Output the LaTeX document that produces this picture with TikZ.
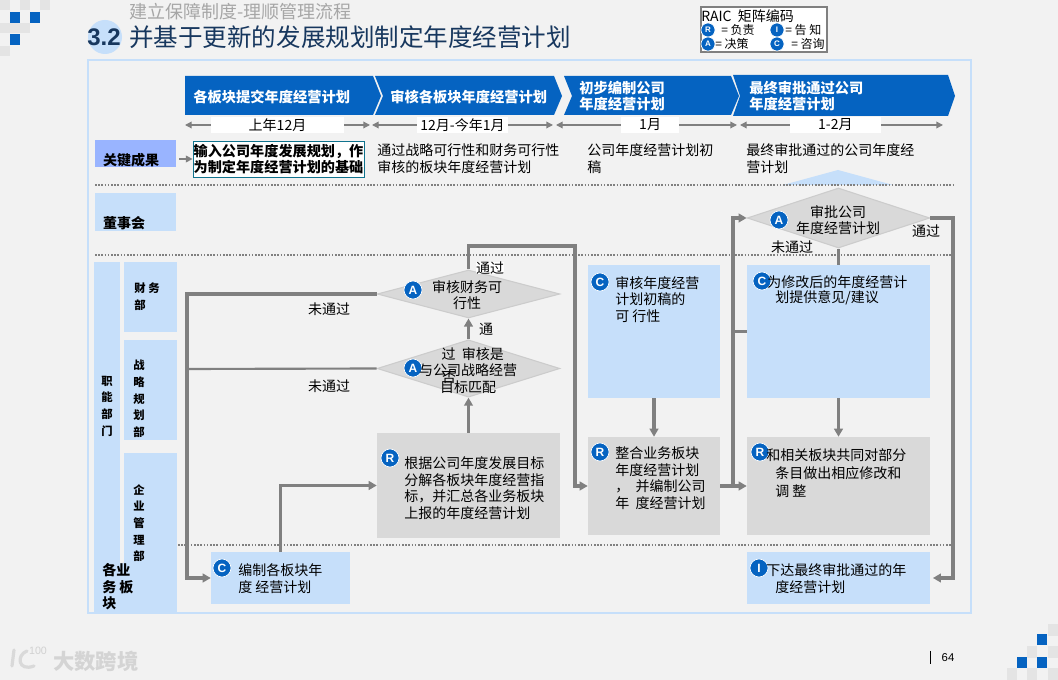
\documentclass[tikz,border=0pt]{standalone}
\usepackage{fontspec}
\setmainfont{Noto Sans CJK SC}
\newfontfamily\latinfont{Liberation Sans}
\usetikzlibrary{arrows.meta,positioning,calc,fit,shapes.geometric}
\definecolor{pagebg}{HTML}{F2F2F2}
\definecolor{paleblue}{HTML}{C6DFFA}
\definecolor{chevblue}{HTML}{0563C1}
\definecolor{navy}{HTML}{17375E}
\definecolor{linegray}{HTML}{808080}
\definecolor{boxgray}{HTML}{D9D9D9}
\definecolor{periwinkle}{HTML}{99B4FF}
\definecolor{tilegray}{HTML}{E4E4E4}
\newcommand{\bodyfont}{\fontsize{10.5}{12.4}\selectfont}

\begin{document}
\begin{tikzpicture}[
  x=0.75pt, y=-0.75pt,
  >={Triangle[length=6pt,width=6.5pt]},
  cbox/.style={rectangle,fill=paleblue,inner sep=0pt},
  gbox/.style={rectangle,fill=boxgray,inner sep=0pt},
  gate/.style={diamond,fill=boxgray,draw=black!20,line width=0.8pt,inner sep=0pt,minimum width=137pt},
  badge/.style={circle,fill=chevblue,draw=white,line width=0.5pt,inner sep=0pt,minimum size=13.5pt,text=white,font=\latinfont\fontsize{9}{9}\selectfont\bfseries},
  keybadge/.style={badge,minimum size=10.5pt,font=\latinfont\fontsize{6}{6}\selectfont\bfseries},
  txt/.style={anchor=west,align=left,inner sep=0pt,font=\bodyfont},
  mid/.style={align=center,inner sep=0pt,font=\bodyfont},
  side/.style={align=center,inner sep=0pt,font=\fontsize{8.5}{12.5}\selectfont\bfseries},
  chev/.style={txt,text=white,font=\fontsize{10.7}{12.4}\selectfont\bfseries},
  span/.style={draw=linegray,line width=1pt,{Triangle[length=5pt,width=5pt]}-{Triangle[length=5pt,width=5pt]}},
  month/.style={fill=white,inner sep=0pt,minimum height=12.5pt,font=\bodyfont},
  flow/.style={draw=linegray,line width=2.3pt,->},
  link/.style={draw=linegray,line width=2.3pt},
  sep/.style={draw=linegray,line width=1.1pt,dash pattern=on 1.2pt off 1.2pt}
]
\fill[pagebg] (0,0) rectangle (1058,680);
\useasboundingbox (0,0) rectangle (1058,680);
% corner tiles
\foreach \x/\y in {0/0,20/0,40/0,0/23,20/23,10/23,0/46}
  \fill[tilegray] (\x,\y) rectangle ++(10,10);
\foreach \x/\y in {10/12,30/12,10/34}
  \fill[chevblue] (\x,\y) rectangle ++(10,11);
\foreach \x/\y in {1048/624,1027/646,1048/646,1007/668,1027/668,1048/668}
  \fill[tilegray] (\x,\y) rectangle ++(10,12);
\foreach \x/\y in {1037/634,1017/657,1037/657}
  \fill[chevblue] (\x,\y) rectangle ++(10,11);
% title
\node[circle,fill=paleblue,minimum size=25.5pt,inner sep=0pt] (numdisc) at (105,37) {};
\node[font=\latinfont\fontsize{18}{18}\selectfont\bfseries,text=navy] (num) at (104,37) {3.2};
\node[anchor=west,inner sep=0pt,text=black!35,font=\fontsize{13.5}{13.5}\selectfont] (subtitle) at (129,12) {建立保障制度-理顺管理流程};
\node[anchor=west,inner sep=0pt,text=navy,font=\fontsize{18.4}{18.4}\selectfont] (title) at (129,37) {并基于更新的发展规划制定年度经营计划};
% legend
\node[fit={(701,7)(827,52)},rectangle,fill=white,draw=linegray,line width=0.8pt,inner sep=0pt] (keybox) {};
\node[txt,font=\fontsize{10.5}{10.5}\selectfont] (keyhead) at (701,16) {RAIC\ \ 矩阵编码};
\node[keybadge] (keyr) at (708,30) {R}; \node[keybadge] (keyi) at (777,30) {I};
\node[keybadge] (keya) at (708,44) {A}; \node[keybadge] (keyc) at (777,44) {C};
\node[txt,font=\fontsize{9}{9}\selectfont] (keyrt) at (721,30) {= 负责};
\node[txt,font=\fontsize{9}{9}\selectfont] (keyit) at (785,30) {= 告 知};
\node[txt,font=\fontsize{9}{9}\selectfont] (keyat) at (715,44) {= 决策};
\node[txt,font=\fontsize{9}{9}\selectfont] (keyct) at (791,44) {= 咨询};
% frame
\node[fit={(88,60)(971,613)},rectangle,draw=paleblue,line width=1.4pt,inner sep=0pt] (frame) {};
% phases
\fill[chevblue] (185,76) -- (373,76) -- (381,96) -- (373,115) -- (185,115) -- cycle;
\fill[chevblue] (375,76) -- (554,76) -- (562,96) -- (554,115) -- (375,115) -- (383,96) -- cycle;
\fill[chevblue] (564,76) -- (731,76) -- (739,96) -- (731,115) -- (564,115) -- (572,96) -- cycle;
\fill[chevblue] (733,75) -- (948,75) -- (955,96) -- (948,116) -- (733,116) -- (740,96) -- cycle;
\node[chev] (ph1) at (193,97) {各板块提交年度经营计划};
\node[chev] (ph2) at (390,97) {审核各板块年度经营计划};
\node[chev] (ph3) at (579,96) {初步编制公司\\年度经营计划};
\node[chev] (ph4) at (749,96) {最终审批通过公司\\年度经营计划};
% months
\coordinate (m1a) at (185,125); \coordinate (m1b) at (370,125);
\coordinate (m2a) at (372,125); \coordinate (m2b) at (553,125);
\coordinate (m3a) at (556,125); \coordinate (m3b) at (737,125);
\coordinate (m4a) at (740,125); \coordinate (m4b) at (943,125);
\draw[span] (m1a) -- node[month,minimum width=100pt] (mon1) {上年12月} (m1b);
\draw[span] (m2a) -- node[month,minimum width=68pt] (mon2) {12月-今年1月} (m2b);
\draw[span] (m3a) -- node[month,minimum width=44pt,pos=.52] (mon3) {1月} (m3b);
\draw[span] (m4a) -- node[month,minimum width=68pt,pos=.47] (mon4) {1-2月} (m4b);
% rows
\coordinate (s1a) at (95,185); \coordinate (s1b) at (953,185);
\coordinate (s2a) at (95,255); \coordinate (s2b) at (953,255);
\coordinate (s3a) at (178,545); \coordinate (s3b) at (953,545);
\fill[paleblue] (783,185) -- (838,170) -- (893,185) -- cycle;
\draw[sep] (s1a) -- (s1b); \draw[sep] (s2a) -- (s2b); \draw[sep] (s3a) -- (s3b);
\node[fit={(95,140)(176,167)},rectangle,fill=periwinkle,inner sep=0pt] (keyout) {};
\node[font=\bodyfont\bfseries,inner sep=0pt] (keyoutt) at (131,160) {关键成果};
\node[fit={(193,141)(364,177)},rectangle,fill=white,draw=navy!70!cyan,line width=0.6pt,inner sep=0pt] (inputbox) {};
\node[mid,font=\fontsize{10.6}{12.6}\selectfont\bfseries] (inputt) at (inputbox.center) {输入公司年度发展规划，作\\为制定年度经营计划的基础};
\coordinate (kstart) at (179,159);
\draw[draw=linegray,line width=1pt,-{Triangle[length=5pt,width=5pt]}] (kstart) -- (kstart -| inputbox.west);
\node[txt] (out2) at (377,158.5) {通过战略可行性和财务可行性\\审核的板块年度经营计划};
\node[txt] (out3) at (587,158.5) {公司年度经营计划初\\稿};
\node[txt] (out4) at (746,158.5) {最终审批通过的公司年度经\\营计划};
\node[fit={(95,193)(176,231)},cbox] (board) {};
\node[font=\bodyfont\bfseries,inner sep=0pt] (boardt) at (124,223) {董事会};
% departments
\node[fit={(94,262)(120,613)},cbox] (dept) {};
\node[fit={(124,262)(177,332)},cbox] (fin) {};
\node[fit={(124,340)(177,440)},cbox] (strat) {};
\node[fit={(124,453)(177,613)},cbox] (corp) {};
\node[fit={(94,563)(177,613)},cbox] (biz) {};
\node[side] (deptt) at (107,406) {职\\能\\部\\门};
\node[side] (fint) at (147,297) {财 务\\部\phantom{ 务}};
\node[side] (stratt) at (139,399) {战\\略\\规\\划\\部};
\node[side] (corpt) at (139,523) {企\\业\\管\\理\\部};
\node[txt,font=\fontsize{10.5}{12.4}\selectfont\bfseries] (bizt) at (102,587) {各业\\务 板\\块};
% steps
\node[fit={(211,552)(350,604)},cbox] (cplan) {};
\node[fit={(377,433)(560,538)},gbox] (rsplit) {};
\node[fit={(588,265)(720,398)},cbox] (creview) {};
\node[fit={(588,437)(720,535)},gbox] (rmerge) {};
\node[fit={(747,265)(930,398)},cbox] (cadvise) {};
\node[fit={(747,437)(930,535)},gbox] (radjust) {};
\node[fit={(747,552)(930,604)},cbox] (inotice) {};
\node[gate,minimum height=36pt] (dfin) at (468.5,294) {};
\node[gate,minimum height=43pt] (dstrat) at (468.5,368.5) {};
\node[gate,minimum height=45pt] (dboard) at (838.5,218) {};
% connectors
\coordinate (leftrun) at (187,578);
\coordinate (leftjoin) at (187,369);
\coordinate (topbend) at (575,246);
\coordinate (midjoin) at (733,486);
\coordinate (midtap) at (733,331.5);
\coordinate (rightrun) at (953,578);
\draw[flow] (dfin.west) -| (leftrun) -- (cplan.west);
\draw[link,line width=1.6pt] (dstrat.west) -- (leftjoin);
\draw[flow] (cplan.north) |- (rsplit.west);
\draw[flow] (rsplit.north) -- (dstrat.south);
\draw[flow] (dstrat.north) -- (dfin.south);
\draw[flow] (dfin.north) |- (topbend) |- (rmerge.west);
\draw[flow] (creview.south) -- (rmerge.north);
\draw[flow] (rmerge.east) -- (radjust.west);
\draw[flow] (midjoin) |- (dboard.west);
\draw[link,line width=1.6pt] (cadvise.west) -- (midtap);
\draw[link] (dboard.south) -- (cadvise.north);
\draw[flow] (cadvise.south) -- (radjust.north);
\draw[flow,shorten >=2pt] (dboard.east) -| (rightrun) -- (inotice.east);
% gate and step texts
\node[badge] (afin) at (413,290) {A};
\node[mid] (dfint) at (467,295) {审核财务可\\行性};
\node[badge] (astrat) at (413,368) {A};
\node[mid] (dstratt) at (468,370.5) {\hspace*{7pt}过\ \ 审核是\\与公司战略经营\\目标匹配};
\node[inner sep=0pt,font=\bodyfont] (dstrato) at (449,378) {否};
\node[badge] (aboard) at (779,220) {A};
\node[mid] (dboardt) at (838,220) {审批公司\\年度经营计划};
\node[badge] (bcplan) at (222,568) {C};
\node[txt] (cplant) at (238,578.5) {编制各板块年\\度 经营计划};
\node[badge] (brsplit) at (390,458) {R};
\node[txt] (rsplitt) at (404,488) {根据公司年度发展目标\\分解各板块年度经营指\\标，并汇总各业务板块\\上报的年度经营计划};
\node[badge] (bcreview) at (600,282) {C};
\node[txt] (creviewt) at (615,299.5) {审核年度经营\\计划初稿的\\可 行性};
\node[badge] (brmerge) at (600,452) {R};
\node[txt] (rmerget) at (615,478) {整合业务板块\\年度经营计划\\，\ \ 并编制公司\\年 \ 度经营计划};
\node[badge] (bcadvise) at (762,281) {C};
\node[txt] (cadvise1) at (767,282) {为修改后的年度经营计};
\node[txt] (cadvise2) at (775,298) {划提供意见/建议};
\node[badge] (bradjust) at (760,452) {R};
\node[txt] (radjust1) at (766,455) {和相关板块共同对部分};
\node[txt] (radjust2) at (775,473) {条目做出相应修改和};
\node[txt] (radjust3) at (775,491) {调 整};
\node[badge] (binotice) at (759,568) {I};
\node[txt] (inotice1) at (766,570) {下达最终审批通过的年};
\node[txt] (inotice2) at (775,587) {度经营计划};
% branch labels
\node[mid,fill=white] (lpass1) at (490,268) {通过};
\node[mid] (lfail1) at (329,309) {未通过};
\node[mid] (lpass2) at (486,329) {通};
\node[mid] (lfail2) at (329,386) {未通过};
\node[mid] (lfail3) at (792,247) {未通过};
\node[mid] (lpass3) at (926,231) {通过};
% footer
\draw[black!15,line width=2.4pt,line cap=round] (14,650) -- (12,666) (27,651) .. controls (16,655) and (18,672) .. (34,666);
\node[inner sep=0pt,text=black!18,font=\latinfont\fontsize{8}{8}\selectfont] (logonum) at (38,651) {100};
\node[anchor=west,inner sep=0pt,text=black!17,font=\fontsize{16}{16}\selectfont\bfseries] (logotext) at (53,661) {大数跨境};
\coordinate (bara) at (930,651); \coordinate (barb) at (930,664);
\draw[black,line width=0.7pt] (bara) -- (barb);
\node[inner sep=0pt,font=\latinfont\fontsize{8.5}{8.5}\selectfont] (pagenum) at (948,658) {64};
\end{tikzpicture}
\end{document}
